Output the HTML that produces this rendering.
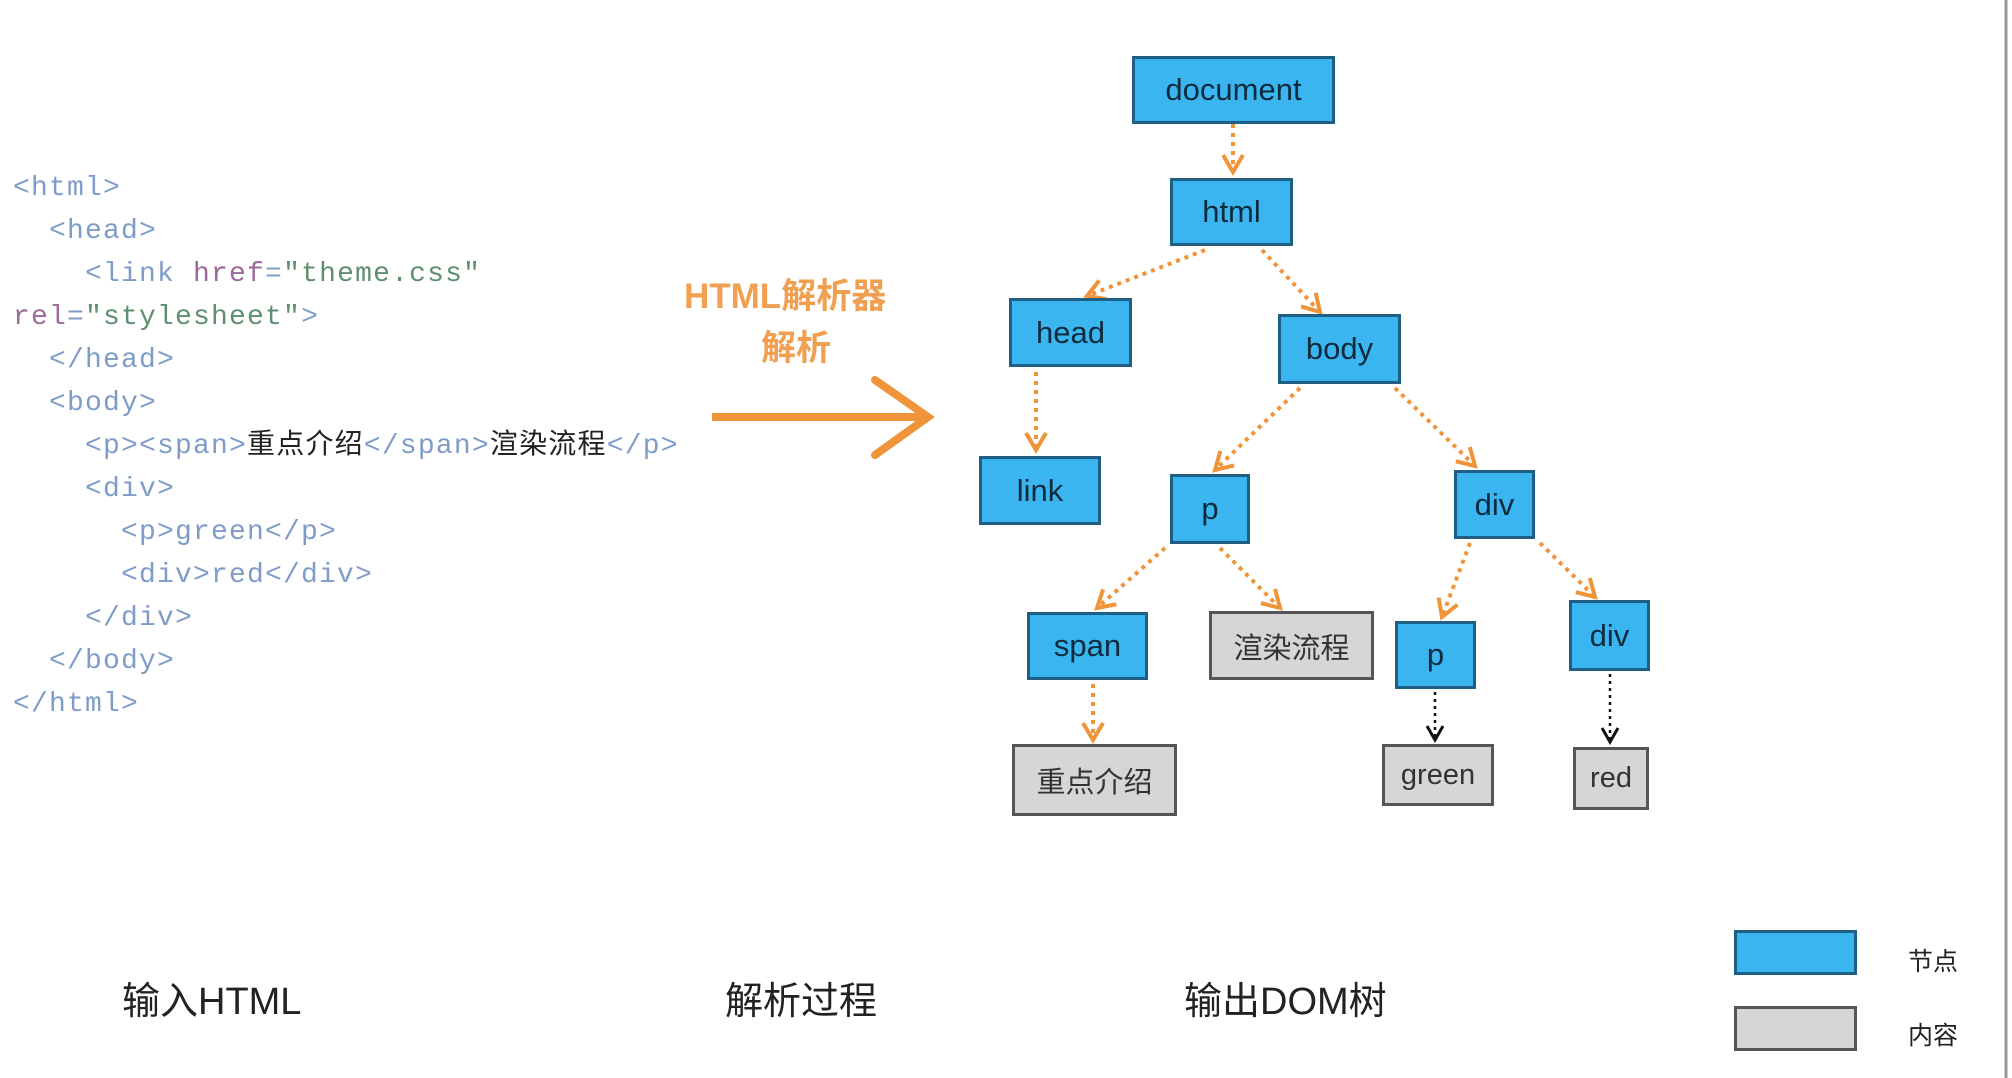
<!DOCTYPE html>
<html><head><meta charset="utf-8"><style>
body{margin:0;width:2012px;height:1078px;background:#fff;position:relative;overflow:hidden;font-family:"Liberation Sans","Noto Sans CJK SC",sans-serif}
.c{position:absolute;left:13px;font-family:"Liberation Mono","Noto Sans CJK SC",monospace;font-size:28px;letter-spacing:1.2px;color:#7f9cc8;white-space:pre;line-height:43px}
.c b{font-weight:normal;color:#222}
.a{color:#9a6a9a}.s{color:#5f8f6f}
.n{position:absolute;box-sizing:border-box;border:3px solid #1f5f86;background:#3bb5ef;color:#0d2b3e;font-size:31px;display:flex;align-items:center;justify-content:center}
.g{background:#d6d6d6;border-color:#555;color:#333;font-size:29px}
.t{position:absolute;font-size:38px;color:#222;white-space:nowrap}
</style></head><body>
<div class="c" style="top:167px">&lt;html&gt;
  &lt;head&gt;
    &lt;link <span class="a">href</span>=<span class="s">"theme.css"</span>
<span class="a">rel</span>=<span class="s">"stylesheet"</span>&gt;
  &lt;/head&gt;
  &lt;body&gt;
    &lt;p&gt;&lt;span&gt;<b>重点介绍</b>&lt;/span&gt;<b>渲染流程</b>&lt;/p&gt;
    &lt;div&gt;
      &lt;p&gt;green&lt;/p&gt;
      &lt;div&gt;red&lt;/div&gt;
    &lt;/div&gt;
  &lt;/body&gt;
&lt;/html&gt;</div>
<div class="t" style="left:684px;top:268px;color:#f0a050;font-size:35px;font-weight:bold">HTML解析器</div>
<div class="t" style="left:761px;top:320px;color:#f0a050;font-size:35px;font-weight:bold">解析</div>
<svg width="2012" height="1078" style="position:absolute;left:0;top:0">
<defs>
<marker id="o" markerWidth="24" markerHeight="24" refX="20" refY="12" orient="auto" markerUnits="userSpaceOnUse"><path d="M3,2 L20,12 L3,22" fill="none" stroke="#f0943a" stroke-width="4"/></marker>
<marker id="k" markerWidth="20" markerHeight="20" refX="17" refY="10" orient="auto" markerUnits="userSpaceOnUse"><path d="M3,2 L17,10 L3,18" fill="none" stroke="#111" stroke-width="3"/></marker>
</defs>
<path d="M712,417 L925,417" stroke="#f0943a" stroke-width="8"/>
<path d="M875,380 L928,417 L875,455" stroke="#f0943a" stroke-width="8" fill="none" stroke-linecap="round"/>
<g stroke="#f0943a" stroke-width="4" stroke-dasharray="4 5" fill="none" marker-end="url(#o)">
<path d="M1233,124 L1233,172"/>
<path d="M1205,250 L1087,296"/>
<path d="M1262,250 L1320,312"/>
<path d="M1036,372 L1036,450"/>
<path d="M1300,388 L1215,470"/>
<path d="M1395,388 L1475,466"/>
<path d="M1165,548 L1097,608"/>
<path d="M1220,548 L1280,608"/>
<path d="M1470,543 L1442,617"/>
<path d="M1540,543 L1595,597"/>
<path d="M1093,684 L1093,740"/>
</g>
<g stroke="#111" stroke-width="2.5" stroke-dasharray="3 4" fill="none" marker-end="url(#k)">
<path d="M1435,692 L1435,740"/>
<path d="M1610,674 L1610,742"/>
</g>
<line x1="2006" y1="0" x2="2006" y2="1078" stroke="#999" stroke-width="3"/>
</svg>
<div class="n" style="left:1132px;top:56px;width:203px;height:68px">document</div>
<div class="n" style="left:1170px;top:178px;width:123px;height:68px">html</div>
<div class="n" style="left:1009px;top:298px;width:123px;height:69px">head</div>
<div class="n" style="left:1278px;top:314px;width:123px;height:70px">body</div>
<div class="n" style="left:979px;top:456px;width:122px;height:69px">link</div>
<div class="n" style="left:1170px;top:474px;width:80px;height:70px">p</div>
<div class="n" style="left:1454px;top:470px;width:81px;height:69px">div</div>
<div class="n" style="left:1027px;top:612px;width:121px;height:68px">span</div>
<div class="n g" style="left:1209px;top:611px;width:165px;height:69px">渲染流程</div>
<div class="n" style="left:1395px;top:621px;width:81px;height:68px">p</div>
<div class="n" style="left:1569px;top:600px;width:81px;height:71px">div</div>
<div class="n g" style="left:1012px;top:744px;width:165px;height:72px">重点介绍</div>
<div class="n g" style="left:1382px;top:744px;width:112px;height:62px">green</div>
<div class="n g" style="left:1573px;top:747px;width:76px;height:63px">red</div>
<div class="n" style="left:1734px;top:930px;width:123px;height:45px"></div>
<div class="n g" style="left:1734px;top:1006px;width:123px;height:45px"></div>
<div class="t" style="left:1908px;top:942px;font-size:25px">节点</div>
<div class="t" style="left:1908px;top:1016px;font-size:25px">内容</div>
<div class="t" style="left:122px;top:970px">输入HTML</div>
<div class="t" style="left:725px;top:970px">解析过程</div>
<div class="t" style="left:1184px;top:970px">输出DOM树</div>
</body></html>
